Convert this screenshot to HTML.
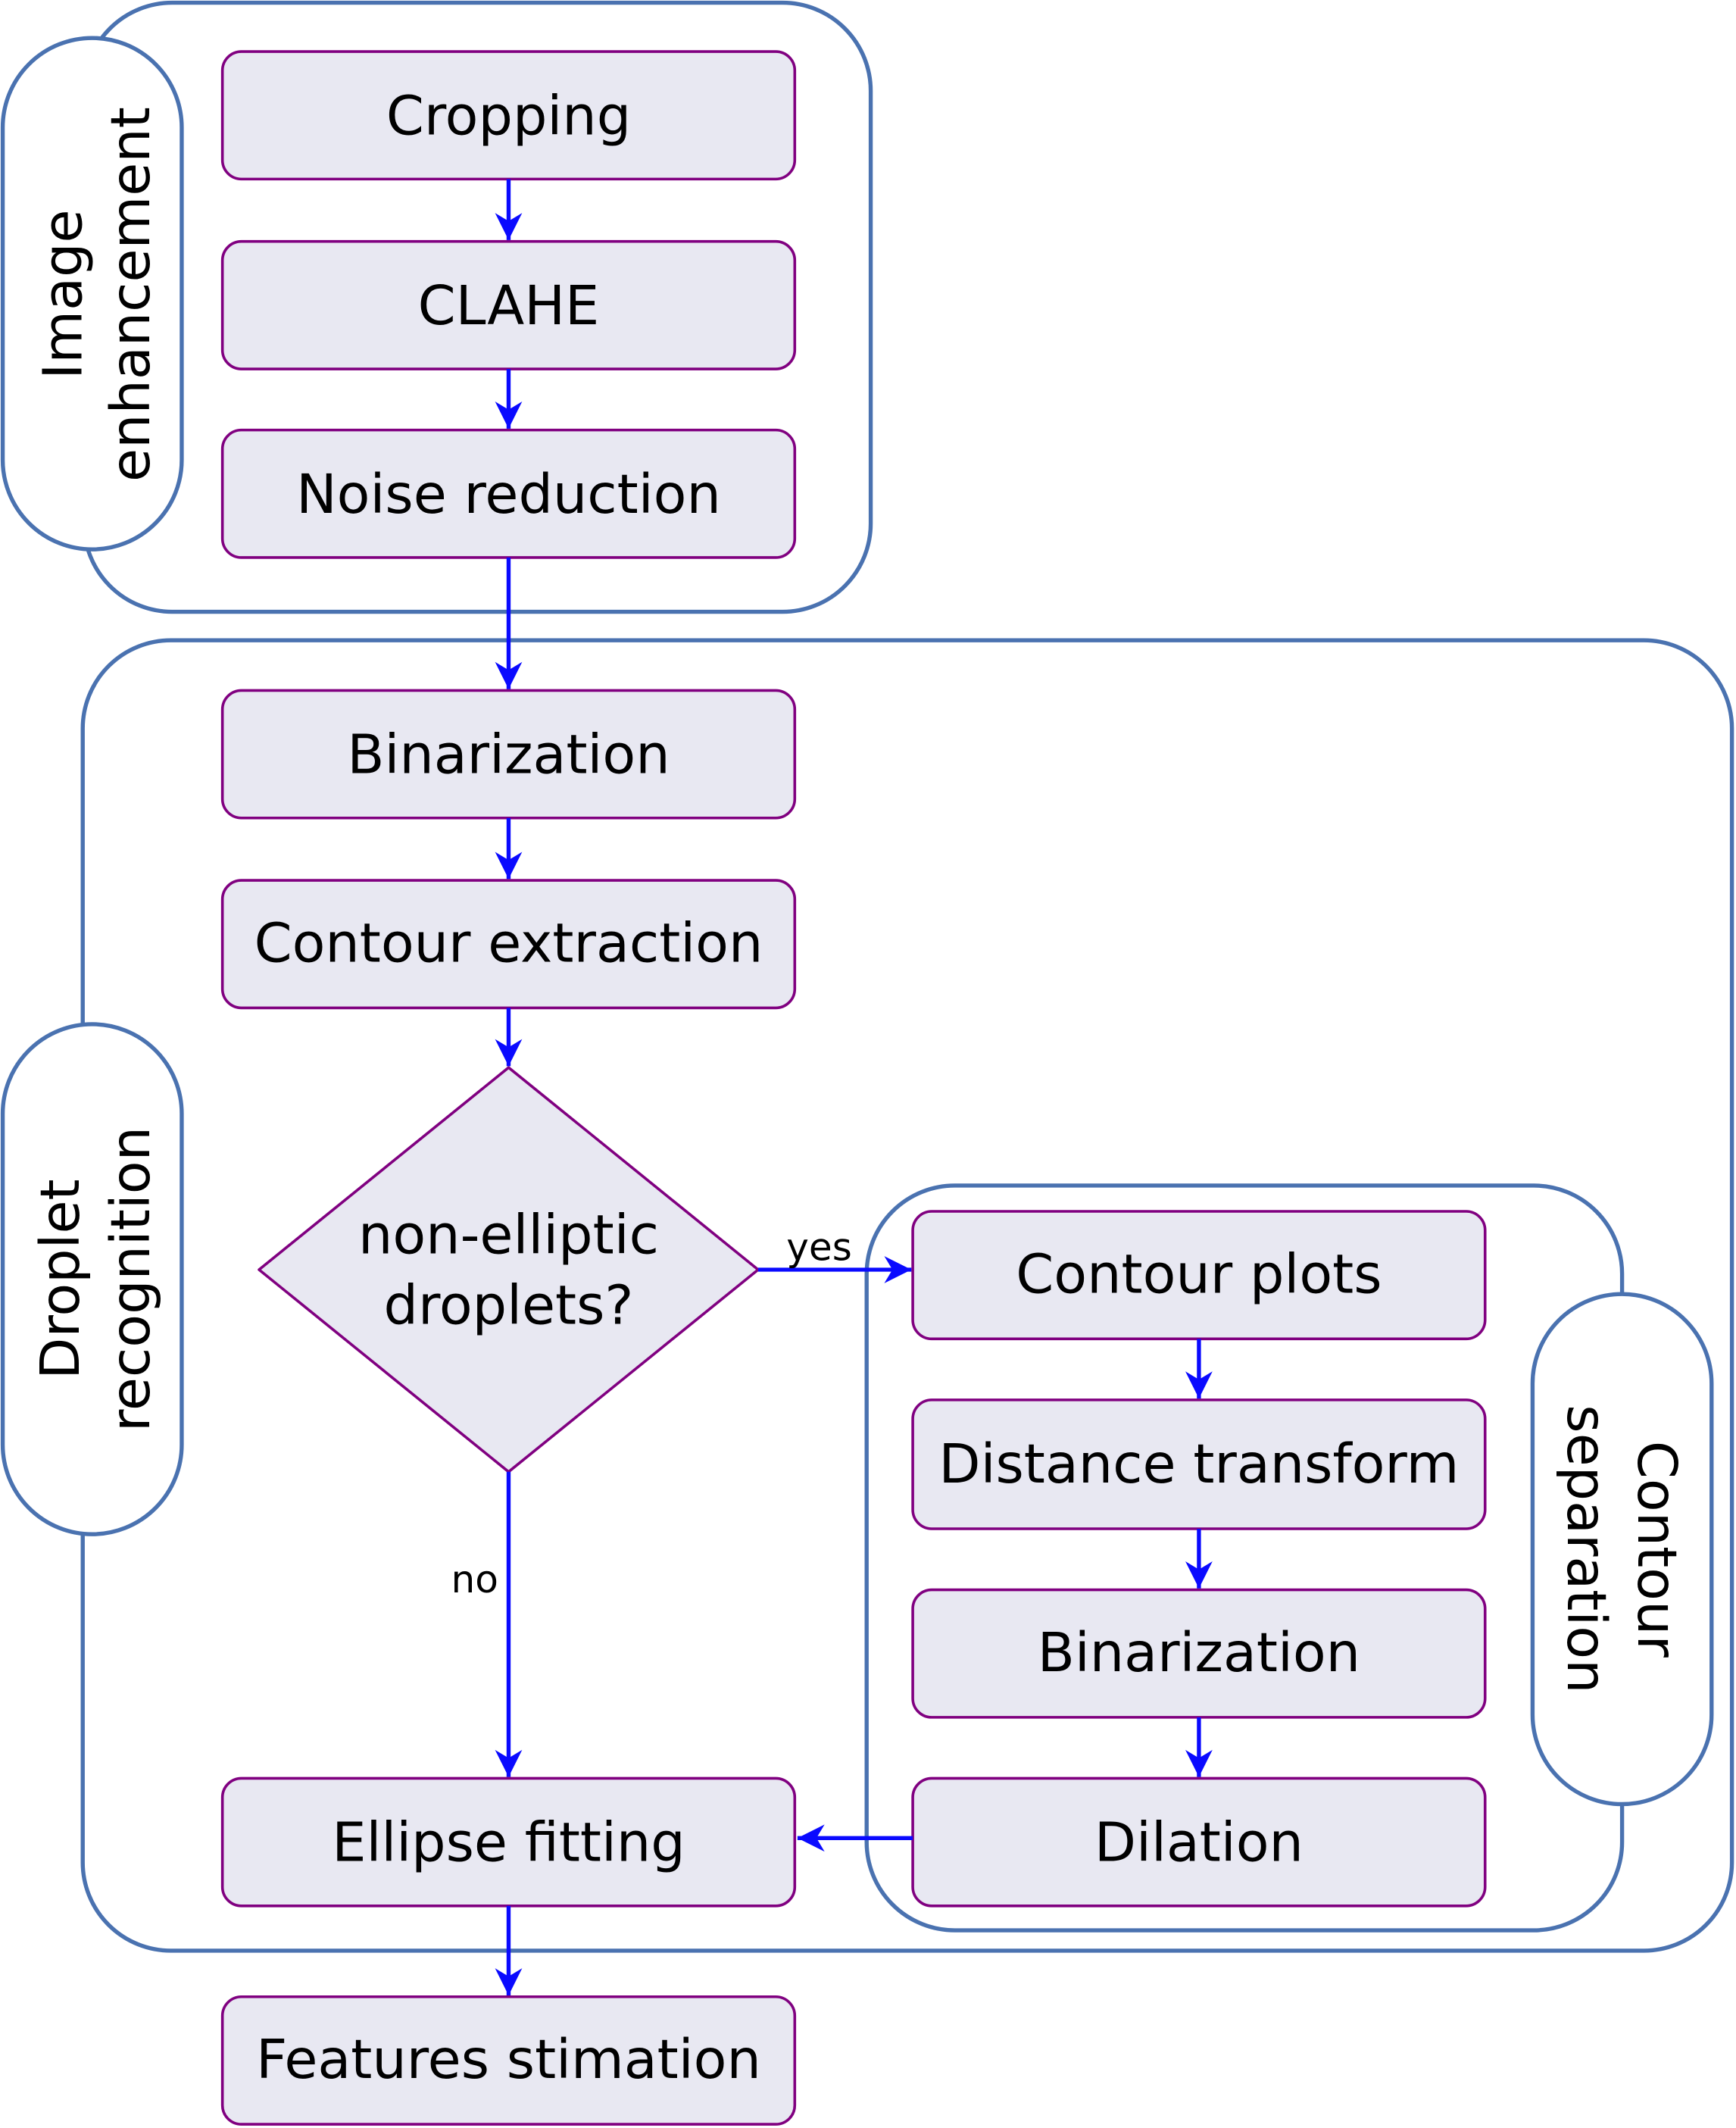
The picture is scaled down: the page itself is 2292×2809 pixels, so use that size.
<!DOCTYPE html>
<html><head><meta charset="utf-8"><style>html,body{margin:0;padding:0;background:#fff}svg{display:block}</style></head>
<body>
<svg width="2292" height="2809" viewBox="0 0 1280 1568.75" preserveAspectRatio="none" xmlns="http://www.w3.org/2000/svg" font-family="'DejaVu Sans','Liberation Sans',sans-serif">
<defs>
<marker id="a" viewBox="0 0 10 10" refX="10" refY="5" markerWidth="22" markerHeight="20" orient="auto" markerUnits="userSpaceOnUse">
<path d="M0,0 L10,5 L0,10 L3,5 Z" fill="#0a0aff"/></marker>
</defs>
<g fill="none" stroke="#4a72b0" stroke-width="3">
<rect x="62" y="2" width="580" height="449" rx="65"/>
<rect x="61" y="472" width="1216" height="966" rx="65"/>
<rect x="639" y="874" width="557" height="549" rx="65"/>
</g>
<g fill="#fff" stroke="#4a72b0" stroke-width="3">
<rect x="2" y="28" width="132" height="377" rx="66"/>
<rect x="2" y="755" width="132" height="376" rx="66"/>
<rect x="1130" y="954" width="132" height="376" rx="66"/>
</g>
<g fill="#e8e8f2" stroke="#800080" stroke-width="2">
<rect x="164" y="38" width="422" height="94" rx="14"/>
<rect x="164" y="178" width="422" height="94" rx="14"/>
<rect x="164" y="317" width="422" height="94" rx="14"/>
<rect x="164" y="509" width="422" height="94" rx="14"/>
<rect x="164" y="649" width="422" height="94" rx="14"/>
<rect x="164" y="1311" width="422" height="94" rx="14"/>
<rect x="164" y="1472" width="422" height="94" rx="14"/>
<rect x="673" y="893" width="422" height="94" rx="14"/>
<rect x="673" y="1032" width="422" height="95" rx="14"/>
<rect x="673" y="1172" width="422" height="94" rx="14"/>
<rect x="673" y="1311" width="422" height="94" rx="14"/>
<path d="M375,787 L559,936 L375,1085 L191,936 Z" stroke-linejoin="round"/>
</g>
<g stroke="#0a0aff" stroke-width="3" fill="none" marker-end="url(#a)">
<line x1="375" y1="132" x2="375" y2="177"/>
<line x1="375" y1="272" x2="375" y2="316"/>
<line x1="375" y1="411" x2="375" y2="508"/>
<line x1="375" y1="603" x2="375" y2="648"/>
<line x1="375" y1="743" x2="375" y2="786"/>
<line x1="375" y1="1085" x2="375" y2="1310"/>
<line x1="375" y1="1405" x2="375" y2="1471"/>
<line x1="559" y1="936" x2="672" y2="936"/>
<line x1="884" y1="987" x2="884" y2="1031"/>
<line x1="884" y1="1127" x2="884" y2="1171"/>
<line x1="884" y1="1266" x2="884" y2="1310"/>
<line x1="673" y1="1355" x2="588" y2="1355"/>
</g>
<g font-size="40" text-anchor="middle" fill="#000">
<text x="375" y="99">Cropping</text>
<text x="375" y="239">CLAHE</text>
<text x="375" y="378">Noise reduction</text>
<text x="375" y="570">Binarization</text>
<text x="375" y="709">Contour extraction</text>
<text x="375" y="924">non-elliptic</text>
<text x="375" y="976">droplets?</text>
<text x="375" y="1372">Ellipse fitting</text>
<text x="375" y="1532">Features stimation</text>
<text x="884" y="953">Contour plots</text>
<text x="884" y="1093">Distance transform</text>
<text x="884" y="1232">Binarization</text>
<text x="884" y="1372">Dilation</text>
<text transform="translate(60,217) rotate(-90)">Image</text>
<text transform="translate(110,217) rotate(-90)">enhancement</text>
<text transform="translate(58,943) rotate(-90)">Droplet</text>
<text transform="translate(110,943) rotate(-90)">recognition</text>
<text transform="translate(1208,1142) rotate(90)">Contour</text>
<text transform="translate(1156,1142) rotate(90)">separation</text>
</g>
<g font-size="28" fill="#000" text-anchor="middle">
<text x="604" y="929">yes</text>
<text x="350" y="1174">no</text>
</g>
</svg>
</body></html>
